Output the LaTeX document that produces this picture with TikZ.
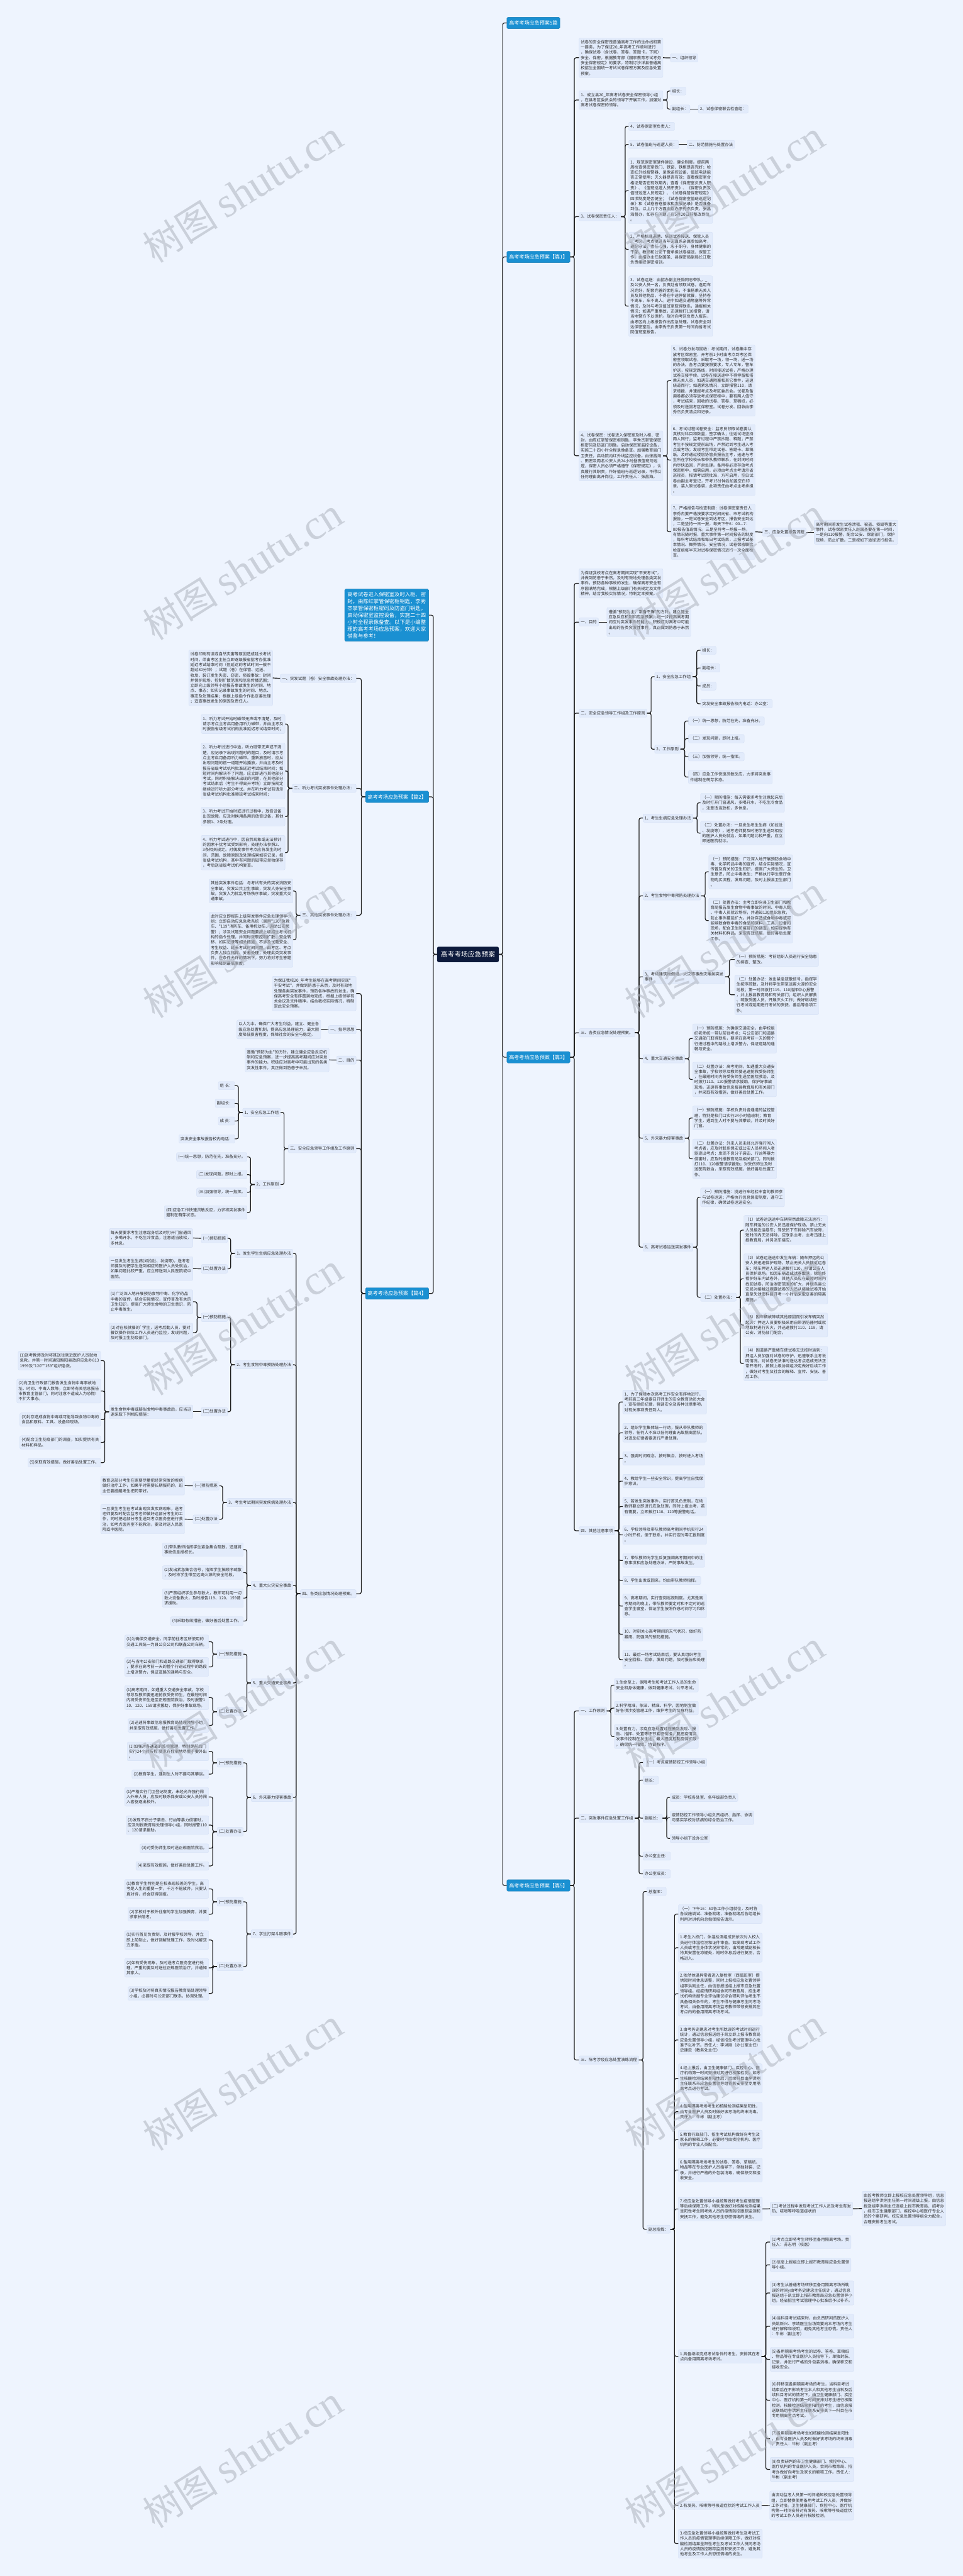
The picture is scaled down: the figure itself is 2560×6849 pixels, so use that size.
\documentclass[tikz,border=0pt]{standalone}
\usepackage{fontspec}
\newfontfamily\cjk{Noto Sans CJK SC}
\newfontfamily\wmlat{Liberation Serif}
\definecolor{bgc}{HTML}{EEF4FE}
\definecolor{nfill}{HTML}{E2EBFB}
\definecolor{nline}{HTML}{D3DFF5}
\definecolor{bluec}{HTML}{1A90D2}
\definecolor{darkc}{HTML}{0D1A3C}
\definecolor{linec}{HTML}{1C1C1C}
\definecolor{wmc}{HTML}{AEB3BE}
\newcommand\nf{\cjk\fontsize{10.7}{13.9}\selectfont}
\newcommand\bfnt{\cjk\fontsize{13.5}{16}\selectfont}
\newcommand\dfnt{\cjk\fontsize{13.9}{18.3}\selectfont}
\newcommand\cfnt{\cjk\fontsize{18}{21}\selectfont}
\tikzset{
 n/.style={fill=nfill,draw=nline,line width=0.6pt,rounded corners=3.5pt,inner xsep=4.5pt,inner ysep=6pt,align=left,font=\nf,text=black!82},
 bl/.style={fill=bluec,draw=bluec!85!black,line width=0.6pt,rounded corners=3pt,inner xsep=6pt,inner ysep=9pt,font=\bfnt,text=white},
 descbox/.style={fill=bluec,draw=bluec!85!black,line width=0.6pt,rounded corners=3pt,inner xsep=7.5pt,inner ysep=8pt,align=left,font=\dfnt,text=white},
 ctrbox/.style={fill=darkc,rounded corners=4pt,inner xsep=10pt,inner ysep=12pt,font=\cfnt,text=white},
 lk/.style={draw=linec,line width=2pt,rounded corners=5pt},
 wm/.style={rotate=32,text=wmc,opacity=0.55,inner sep=0pt}
}
\newcommand\RN[4]{\node[n,anchor=west] (#1) at (#2,#3) {#4};}
\newcommand\LN[4]{\node[n,anchor=east] (#1) at (#2,#3) {#4};}
\newcommand\linkR[2]{\draw[lk] (#1.east) -- ++(11,0) |- (#2.west);}
\newcommand\linkL[2]{\draw[lk] (#1.west) -- ++(-11,0) |- (#2.east);}
\newcommand\oneR[2]{\draw[lk] (#1.east) -- (#2.west);}
\newcommand\oneL[2]{\draw[lk] (#1.west) -- (#2.east);}
\newcommand\wmark[2]{\node[wm] at (#1,#2) {\cjk\fontsize{100}{100}\selectfont 树图 \wmlat\fontsize{112}{112}\selectfont shutu.cn};}
\begin{document}
\begin{tikzpicture}[x=1pt,y=-1pt]
\fill[bgc] (0,0) rectangle (2560,6849);
\useasboundingbox (0,0) rectangle (2560,6849);

% ---------------- level 0 and 1
\node[ctrbox] (ct) at (1244,2537.5) {高考考场应急预案};
\node[bl,anchor=west] (r0) at (1347,61) {高考考场应急预案5篇};
\node[bl,anchor=west] (r1) at (1347,683) {高考考场应急预案【篇1】};
\node[bl,anchor=west] (r3) at (1347,2811) {高考考场应急预案【篇3】};
\node[bl,anchor=west] (r5) at (1347,5013) {高考考场应急预案【篇5】};
\node[descbox,anchor=east] (ld) at (1140,1635.5) {高考试卷进入保密室及时入柜、密\\封。由陈红掌管保密柜钥匙，李秀\\杰掌管保密柜密码及防盗门钥匙。\\启动保密室监控设备，实施二十四\\小时全程录像备查。以下是小编整\\理的高考考场应急预案，欢迎大家\\借鉴与参考！};
\node[bl,anchor=east] (l2) at (1140,2118.5) {高考考场应急预案【篇2】};
\node[bl,anchor=east] (l4) at (1140,3439) {高考考场应急预案【篇4】};
\foreach \c in {r0,r1,r3,r5} {\draw[lk] (ct.east) -- ++(10,0) |- (\c.west);}
\foreach \c in {ld,l2,l4} {\draw[lk] (ct.west) -- ++(-10,0) |- (\c.east);}

% ---------------- 篇1
\RN{a1}{1539}{153.5}{试卷的安全保密是普通高考工作的生命线和第\\一要务，为了保证20\_年高考工作顺利进行\\，确保试卷（含试卷、答卷、答题卡，下同）\\安全、保密，根据教育部《国家教育考试考务\\安全保密规定》的要求，特制订沙洋县普通高\\校招生全国统一考试试卷保密方案及应急处置\\预案。}
\RN{a1c}{1782}{154}{一、组织领导}
\RN{a2}{1539}{266}{1、成立县20\_年高考试卷安全保密领导小组\\，在县考区委员会的领导下开展工作，加强对\\高考试卷保密的领导。}
\RN{a2a}{1782}{242}{组长：}
\RN{a2b}{1782}{290}{副组长：}
\RN{a2bc}{1856}{290}{2、试卷保密联合检查组：}
\RN{a3}{1539}{576}{3、试卷保密责任人：}
\RN{a3a}{1671}{336}{4、试卷保密室负责人：}
\RN{a3b}{1671}{384}{5、试卷值班与巡逻人员：}
\RN{a3bc}{1826}{384}{二、防范措施与处置办法}
\RN{a3c}{1671}{507}{1、规范保密室硬件建设，健全制度。提前两\\周检查保密室铁门、铁窗、铁柜是否完好；检\\查红外线报警器、录像监控设备、值班电话能\\否正常使用；灭火器是否有效；查看保密室合\\格证是否在有效期内；查看《保密室负责人职\\责》、《值班巡逻人员职责》、《保密负责及\\值班巡逻人员规定》、《试卷保管保密规定》\\四项制度是否健全；《试卷保密室值班巡逻记\\录》和《试卷答卷接收和发放记录》是否准备\\到位。以上几个方面由招办李秀杰负责，张昌\\海督办，如存在问题，在5月20日前整改到位\\。}
\RN{a3d}{1671}{663}{2、严格标准选聘、培训试卷接送、保管人员\\。考区、考点挑选当年无直系亲属参加高考，\\遵纪守法，责任心强，忠于职守，身体健康的\\干部、教师和公安干警承担试卷接送、保管工\\作。由招办主任赵国圣、县保密局副局长江敬\\负责组织保密培训。}
\RN{a3e}{1671}{814}{3、试卷运送：由招办副主任勋同志带队，\_\\及公安人员一名，负责赴省领取试卷。选用车\\况完好，配套完善的面包车，不准搭乘无关人\\员及其他物品，不得在中途停留就餐，坚持卷\\不离车，车不离人。途中如遇交通堵塞等异常\\情况，及时与考区值班室取得联系，通报相关\\情况；如遇严重事故，迅速拨打110报警，请\\当地警方予以保护。及时向考区负责人报告，\\由考区向上级报告作出应急处理。试卷安全到\\达保密室后，由李秀杰负责第一时间向省考试\\院值班室报告。}
\RN{a4}{1539}{1212}{4、试卷保密：试卷进入保密室及时入柜、密\\封，由陈红掌管保密柜钥匙，李秀杰掌管保密\\柜密码及防盗门钥匙。启动保密室监控设备，\\实施二十四小时全程录像备查。加强教育局门\\卫责任，启动院内红外线监控设备。由张昌海\\、田密及两名公安人员24小时昼夜值班与巡\\逻，保密人员必须严格遵守《保密规定》，认\\真履行其职责，作好值班与巡逻记录，不得以\\任何理由离开岗位。工作责任人：张昌海。}
\RN{a4a}{1784}{1012}{5、试卷分发与回收：考试期间，试卷集中存\\放考区保密室，开考前1小时由考点到考区保\\密室领取试卷，采取考一场，领一场，送一场\\的办法。各考点要按照要求，专人专车，警车\\护送，按规定路线，时间接送试卷，严格办理\\试卷交接手续。试卷在接送途中不得停留和搭\\乘无关人员，如遇交通阻塞和其它事件，迅速\\绕道而行；如遇紧急情况，立即报警110，请\\求增援，并速报考点及考区委员会。试卷及备\\用卷都必须存放考点保密柜中，要有两人值守\\，考试结束，回收的试卷、答卷、草稿纸，必\\须及时送回考区保密室。试卷分发、回收由李\\秀杰负责清点和记录。}
\RN{a4b}{1784}{1223}{6、考试过程试卷安全：监考员领取试卷要认\\真核对科目和数量，签字确认；往返试场坚持\\两人同行；监考过程中严禁抄题、释题；严禁\\考生不按规定提前出场，严禁迟到考生进入考\\点或考场；发现考生带走试卷、答题卡、草稿\\纸，及时通过楼层协管员报告主考，迅速与考\\生所在学校校长和带队教师联系，在封闭时间\\内尽快追回，严肃处理。备用卷必须存放考点\\保密柜中，如需启用，必须由考点主考请示省\\巡视员，报请考试院批准，方可启用，空白试\\卷由副主考登记，开考15分钟后加盖空白印\\章，装入原试卷袋，此项责任由考点主考承担\\。}
\RN{a4c}{1784}{1414}{7、严格报告与检查制度：试卷保密室责任人\\李秀杰要严格按要求定时间向省、市考试机构\\报告，一是试卷安全到达考区，报告安全到达\\，二是坚持一日一报，每天下午6：00—7：\\00报告值班情况。三是坚持考一场报一场，\\有情况随时报，重大事件第一时间报告的制度\\，每科考试结束和每日考试结束，上报考试基\\本情况、舞弊情况、安全情况，试卷保密联合\\检查组每半天对试卷保密情况进行一次全面检\\查。}
\RN{a4cc}{2027}{1415}{三、应急处置报告流程}
\RN{a4ccc}{2164}{1415}{高考期间若发生试卷泄密、被盗、损毁等重大\\事件，试卷保密责任人赵国圣要在第一时间，\\一是向110报警，配合公安、保密部门，保护\\现场，防止扩散。二是按如下途径进行报告。}
\foreach \c in {a1,a2,a3,a4} {\linkR{r1}{\c}}
\oneR{a1}{a1c}
\foreach \c in {a2a,a2b} {\linkR{a2}{\c}}
\oneR{a2b}{a2bc}
\foreach \c in {a3a,a3b,a3c,a3d,a3e} {\linkR{a3}{\c}}
\oneR{a3b}{a3bc}
\foreach \c in {a4a,a4b,a4c} {\linkR{a4}{\c}}
\oneR{a4c}{a4cc}
\oneR{a4cc}{a4ccc}

% ---------------- 篇3
\RN{c1}{1539}{1551}{为保证我校考点在高考期间实现"平安考试"，\\并做到防患于未然，及时有效地处理各类突发\\事件，预防各种事故的发生，确保高考安全有\\序圆满地完成，根据上级部门有关规定及文件\\精神，结合我校实际情况，特制定本预案。}
\RN{c2}{1539}{1654}{一、目的}
\RN{c2c}{1613}{1654}{遵循"预防为主，常备不懈"的方针，建立健全\\应急反应机制和应急预案，进一步提高高考期\\间应对突发事件的能力，积极应对高考中可能\\出现的各类突发性事件，真正做到防患于未然\\。}
\RN{c3}{1539}{1896}{二、安全应急领导工作组及工作原则}
\RN{c3a}{1740}{1799}{1、安全应急工作组}
\RN{c3a1}{1862}{1729}{组长：}
\RN{c3a2}{1862}{1776}{副组长：}
\RN{c3a3}{1862}{1824}{成员：}
\RN{c3a4}{1862}{1871}{突发安全事故报告校内电话：办公室：}
\RN{c3b}{1740}{1992}{2、工作原则}
\RN{c3b1}{1830}{1917}{（一）统一思想，防范在先，准备充分。}
\RN{c3b2}{1830}{1964}{（二）发现问题，即时上报。}
\RN{c3b3}{1830}{2012}{（三）加强领导，统一指挥。}
\RN{c3b4}{1830}{2066}{（四）应急工作快速灵敏反应，力求将突发事\\件遏制在萌芽状态。}
\RN{c4}{1539}{2746}{三、各类应急情况处理预案。}
\RN{c4a}{1709}{2175}{1、考生生病应急处理办法}
\RN{c4a1}{1862}{2134.5}{（一）预防措施：每天需要求考生注意起床后\\及时打开门窗通风，多喝开水，不吃生冷食品\\，注意适当放松，多休息。}
\RN{c4a2}{1862}{2215}{（二）处置办法：一旦发生考生生病（如拉肚\\、发烧等），送考老师要及时把学生送到相应\\的医护人员处就治，如果问题比较严重，应立\\即送医院就诊。}
\RN{c4b}{1709}{2382}{2、考生食物中毒预防处理办法}
\RN{c4b1}{1884}{2318}{（一）预防措施：广泛深入地开展预防食物中\\毒、化学药品中毒的宣传，结合实际情况，宣\\传普及有关的卫生知识，提高广大师生的。卫\\生意识，防止中毒发生；严格执行学生餐厅食\\物购买流程，发现问题，及时上报县卫生部门\\。}
\RN{c4b2}{1884}{2447.5}{（二）处置办法：主考立即向县卫生部门和教\\育局报告发生食物中毒事故的时间、中毒人数\\、中毒人员就诊场所，并通知120组织急救，\\防止事件蔓延扩大。并封存造成食物中毒或可\\能导致食物中毒的食品和原料、工具、设备和\\现场，配合卫生防疫部门的调查，如实提供有\\关材料和样品。采取有效措施，做好善后处置\\工作。}
\RN{c4c}{1709}{2597}{3、考场建筑物倒塌、火灾等事故灾难类突发\\事件}
\RN{c4c1}{1953}{2551}{（一）预防措施：考前组织人员进行安全隐患\\的排查、整改。}
\RN{c4c2}{1953}{2645}{（二）处置办法：发出紧急疏散信号，指挥学\\生按序疏散，及时将学生带至远离火源的安全\\地段；第一时间拨打119、110指挥中心报警\\，并上报县教育局和有关部门；组织人员解救\\、疏散受困人员，开展灭火工作；做好继续进\\行考试或延期进行考试的安抚、善后等各项工\\作。}
\RN{c4d}{1709}{2815}{4、重大交通安全事故}
\RN{c4d1}{1841}{2761}{（一）预防措施：为确保交通安全，由学校组\\织老师统一带队前往考点；与公安部门和道路\\交通部门取得联系，要求在高考前一天的整个\\行进过程中的路段上增派警力，保证道路的通\\畅与安全。}
\RN{c4d2}{1841}{2870}{（二）处置办法：高考期间，如遇重大交通安\\全事故，学校领导及教师要迅速抢救受伤师生\\，在最短时间内将受伤师生送至医院救治，及\\时拨打110、120报警请求援助，保护好事故\\现场。迅速将事故信息报县教育局和有关部门\\，并采取有效措施，做好善后处置工作。}
\RN{c4e}{1709}{3026}{5、外来暴力侵害事故}
\RN{c4e1}{1841}{2972.5}{（一）预防措施：学校负责对各通道的监控管\\理，特别是校门口实行24小时值班制；教育\\学生，遇到生人时不要与其攀谈，并及时关好\\门窗。}
\RN{c4e2}{1841}{3081}{（二）处置办法：外来人员未经允许强行闯入\\考点者，应及时联系保安或公安人员将闯入者\\驱逐出考点；发现不良分子袭击、行凶等暴力\\侵害时，应及时报教育局及相关部门，同时拨\\打110、120报警请求援助；对受伤师生及时\\送医院救治，采取有效措施，做好善后处置工\\作。}
\RN{c4f}{1709}{3316}{6、高考试卷运送突发事件}
\RN{c4f1}{1862}{3183.5}{（一）预防措施：挑选行车经验丰富的教师参\\与试卷运送；严格执行信息保密制度，遵守工\\作纪律，确保试卷运送安全。}
\RN{c4f2}{1862}{3449}{（二）处置办法：}
\RN{c4g1}{1977}{3270.5}{（1）试卷运送途中车辆突然故障无法运行：\\随车押运的公安人员迅速保护现场，禁止无关\\人员接近运卷车；驾驶员下车排除汽车故障，\\短时间内无法排除，应联系主考，主考迅速上\\报教育局，并另派车接应。}
\RN{c4g2}{1977}{3400}{（2）试卷运送途中发生车祸：随车押运的公\\安人员迅速保护现场，禁止无关人员接近运卷\\车；随车押运人员迅速拨打110，呼请公安人\\员保护现场。如因车祸造成试卷散落，除始终\\看护好车内试卷外，其他人员应在最短时间内\\找回试卷，防治泄密范围的扩大，并联系县公\\安局对接触过裸露试卷的人员从接触试卷开始\\直至失泄密科目开考一小时后采取妥善的隔离\\措施。}
\RN{c4g3}{1977}{3523}{（3）因车辆故障或其他原因而引发车辆突然\\起火：押运人员要积极采用自带消防器材或就\\地取材进行灭火，并迅速拨打110、119，请\\公安、消防部门配合。}
\RN{c4g4}{1977}{3625.5}{（4）因道路严重堵车使试卷无法按时运到：\\押运人员加强对试卷的守护，迅速联系主考说\\明情况。对试卷无法准时送达考点造成无法正\\常开考的，按照上级协调组决定做好后续工作\\，做好对考生及社会的解释、宣传、安抚、善\\后工作。}
\RN{c5}{1539}{4070}{四、其他注意事项}
\RN{c51}{1655}{3727.5}{1、为了保障本次高考工作安全有序地进行，\\考前高三年级要召开师生的安全教育动员大会\\，宣布组织纪律，强调安全及各种注意事项，\\对有关事项责任到人。}
\RN{c52}{1655}{3809.5}{2、组织学生集体统一行动，服从带队教师的\\领导，任何人不准以任何理由无故脱离团队，\\对违反纪律者要进行严肃处理。}
\RN{c53}{1655}{3877.5}{3、强调时间观念，按时集合，按时进入考场\\。}
\RN{c54}{1655}{3938}{4、教给学生一些安全常识，提高学生自我保\\护意识。}
\RN{c55}{1655}{4005.5}{5、若发生突发事件，实行首见负责制，在场\\教师要立即进行应急处理，同时上报主考，若\\有需要，立即拨打110、120等报警电话。}
\RN{c56}{1655}{4081}{6、学校领导及带队教师高考期间手机实行24\\小时开机，便于联系，并实行定时零汇报制度\\。}
\RN{c57}{1655}{4149}{7、带队教师向学生反复强调高考期间中的注\\意事项和应急处理办法，严防事故发生。}
\RN{c58}{1655}{4202}{8、学生出发或回来，均由带队教师指挥。}
\RN{c59}{1655}{4270}{9、高考期间，实行查岗巡视制度。尤其是高\\考期间的晚上，带队教师要定时和不定时的巡\\查学生寝室，保证学生按照作息时间学习和休\\息。}
\RN{c510}{1655}{4345}{10、时刻关心高考期间的天气状况，做好防\\暴雨、防强风的预防措施。}
\RN{c511}{1655}{4412.5}{11、最后一场考试结束后，要认真组织考生\\安全回校、回家，发现问题，及时报告和处理\\。}
\foreach \c in {c1,c2,c3,c4,c5} {\linkR{r3}{\c}}
\oneR{c2}{c2c}
\foreach \c in {c3a,c3b} {\linkR{c3}{\c}}
\foreach \c in {c3a1,c3a2,c3a3,c3a4} {\linkR{c3a}{\c}}
\foreach \c in {c3b1,c3b2,c3b3,c3b4} {\linkR{c3b}{\c}}
\foreach \c in {c4a,c4b,c4c,c4d,c4e,c4f} {\linkR{c4}{\c}}
\foreach \c in {c4a1,c4a2} {\linkR{c4a}{\c}}
\foreach \c in {c4b1,c4b2} {\linkR{c4b}{\c}}
\foreach \c in {c4c1,c4c2} {\linkR{c4c}{\c}}
\foreach \c in {c4d1,c4d2} {\linkR{c4d}{\c}}
\foreach \c in {c4e1,c4e2} {\linkR{c4e}{\c}}
\foreach \c in {c4f1,c4f2} {\linkR{c4f}{\c}}
\foreach \c in {c4g1,c4g2,c4g3,c4g4} {\linkR{c4f2}{\c}}
\foreach \c in {c51,c52,c53,c54,c55,c56,c57,c58,c59,c510,c511} {\linkR{c5}{\c}}

% ---------------- 篇5
\RN{d1}{1539}{4549}{一、工作原则}
\RN{d11}{1633}{4480.5}{1.生命至上，保障考生和考试工作人员的生命\\安全和身体健康，做到健康考试、公平考试。}
\RN{d12}{1633}{4541.5}{2.科学精准，依法、精准、科学，因地制宜做\\好各项涉疫管理工作，维护考生的切身利益。}
\RN{d13}{1633}{4617}{3.处置有力，涉疫应急处置过程做到发现、报\\告、指挥、处置等环节紧密衔接，要把疫情突\\发事件控制在发生地，最大程度控制疫情扩散\\，确保统一指挥，协调有序。}
\RN{d2}{1539}{4834}{二、突发事件应急处置工作组}
\RN{d21}{1709}{4686}{（一）考点疫情防控工作领导小组}
\RN{d22}{1709}{4733}{组长：}
\RN{d23}{1709}{4834}{副组长：}
\RN{d231}{1781}{4779}{成员：学校各处室、各年级部负责人}
\RN{d232}{1781}{4833}{疫情防控工作领导小组负责组织、指挥、协调\\与落实学校对该病的综合防治工作。}
\RN{d233}{1781}{4888}{领导小组下设办公室}
\RN{d24}{1709}{4935}{办公室主任：}
\RN{d25}{1709}{4982}{办公室成员：}
\RN{d3}{1539}{5477}{三、陈考涉疫应急处置演练流程}
\RN{d31}{1719}{5029}{总指挥：}
\RN{d32}{1719}{5927}{副总指挥：}
\RN{e1}{1803}{5089}{（一）下午16：50各工作小组就位，及时将\\各设施调试、准备就绪，准备就绪后各组组长\\利用对讲机向总指挥报告请示。}
\RN{e2}{1803}{5178.5}{1.考生入校门，体温检测组成员依次对入校人\\员进行体温检测和证件审查。如发现考试工作\\人员或考生身体状况异常的，由常建斌副校长\\将其安置在凉棚处，短时休息后进行复测，合\\格进入。}
\RN{e3}{1803}{5301}{2.依然体温异常者进入复检室（西值班室）提\\供短时间休息调整，同时上报校应急处置领导\\组李洪刚主任，由信息报送组上报市应急处置\\领导组。经疫情研判组协同市教育局、招生考\\试机构依据专业评估建议综合研判评估考生不\\具备相关条件的，考生不得与健康考生同考场\\考试，由备用隔离考场监考教师带领安排其在\\考点内的备用隔离考场考试。}
\RN{e4}{1803}{5424}{3.由考务史建忠对考生所耽误的考试时间进行\\统计，通过信息报送组于凯立即上报市教育局\\应急处置领导小组，经省招生考试管理中心批\\准予以补齐。责任人：李洪刚（办公室主任）\\史建忠（教务处主任）}
\RN{e5}{1803}{5526}{4.经上报后，由卫生健康部门、疾控中心、医\\疗机构第一时间安排对其进行核酸检测，如考\\生核酸检测结果呈阳性后，后续科目由李洪刚\\主任联系市应急处置领导组将其安排至专用隔\\离考点进行考试。}
\RN{e6}{1803}{5614.5}{4.备用隔离考场考生如核酸检测结果呈阳性，\\由专业医护人员及时做好该考场的终末消毒。\\责任人：牛彬（副主考）}
\RN{e7}{1803}{5688.5}{5.教育行政部门、招生考试机构做好向考生及\\家长的解释工作，必要时可由疾控机构、医疗\\机构的专业人员配合。}
\RN{e8}{1803}{5769.5}{6.备用隔离考场考生的试卷、答卷、草稿纸、\\物品等在专业医护人员指导下，单独封装、记\\录，并进行严格的外包装消毒，确保移交和接\\收安全。}
\RN{e9}{1803}{5873}{7.校应急处置领导小组统筹做好考生疫情管理\\等后续保障工作，特别是做好对核酸检测结果\\呈阳性考生同考场人员的疫情防控跟踪监测和\\安抚工作，避免其他考生恐慌情绪的发生。}
\RN{e9a}{2047}{5872.5}{(二)考试过程中发现考试工作人员及考生有发\\热、咳嗽等呼吸道症状的}
\RN{e9b}{2291}{5872}{由监考教师立即上报校应急处置领导组，信息\\报送组李洪刚主任第一时间逐级上报，由信息\\报送组李洪刚主任逐级上报市教育局、招考办\\，经市卫生健康部门、疾控中心和医疗专业人\\员的个案研判，校应急处置领导组全力配合，\\合理安排考生考试。}
\RN{e10}{1803}{6265}{1.具备继续完成考试条件的考生，安排其在考\\点内备用隔离考场考试。}
\RN{f1}{2047}{5961}{(1)考点立即将考生转移至备用隔离考场。责\\任人：苏志明（校医）}
\RN{f2}{2047}{6021.5}{(2)信息上报组立即上报市教育局应急处置领\\导小组。}
\RN{f3}{2047}{6096.5}{(3)考生从普通考场转移至备用隔离考场所耽\\误的时间y由考务史建忠主任统计，通过信息\\报送组于凯立即上报市教育局应急处置领导小\\组，经省招生考试管理中心批准后予以补齐。}
\RN{f4}{2047}{6185}{(4)当科目考试结束时，由负责研判的医护人\\员姚新兴、李靖医生当场简要向本考场内考生\\进行解释和说明，避免其他考生恐慌。责任人\\：牛彬（副主考）}
\RN{f5}{2047}{6273}{(5)备用隔离考场考生的试卷、答卷、草稿纸\\、物品等在专业医护人员指导下，单独封装、\\记录，并进行严格的外包装消毒，确保移交和\\接收安全。}
\RN{f6}{2047}{6381.5}{(6)转移至备用隔离考场的考生，当科目考试\\结束后在不影响考生本人和其他考生当科及后\\续科目考试的情况下，由卫生健康部门、疾控\\中心、医疗机构第一时间安排对考生进行核酸\\检测。核酸检测结果呈阳性的考生，由信息报\\送联络组李洪刚主任联系安排其下一科目在市\\专用隔离考点考试。}
\RN{f7}{2047}{6484}{(7)备用隔离考场考生如核酸检测结果呈阳性\\，由专业医护人员及时做好该考场的终末消毒\\。责任人：牛彬（副主考）}
\RN{f8}{2047}{6565.5}{(8)负责研判的市卫生健康部门、疾控中心、\\医疗机构的专业医护人员，会同市教育局、招\\考办做好向考生及家长的解释工作。责任人：\\牛彬（副主考）}
\RN{e11}{1803}{6661}{2.有发热、咳嗽等呼吸道症状的考试工作人员}
\RN{e11a}{2046}{6661.5}{由流动监考人员第一时间通知校应急处置领导\\组，立即替换使用备用考试工作人员，并做好\\工作对接。卫生健康部门、疾控中心、医疗机\\构第一时间安排对有发热、咳嗽等呼吸道症状\\的考试工作人员进行核酸检测。}
\RN{e12}{1803}{6763}{3.校应急处置领导小组统筹做好考生及考试工\\作人员的疫情管理等后续保障工作，做好对核\\酸检测结果呈阳性考生及考试工作人员同考场\\人员的疫情防控跟踪监测和安抚工作，避免其\\他考生及工作人员恐慌情绪的发生。}
\foreach \c in {d1,d2,d3} {\linkR{r5}{\c}}
\foreach \c in {d11,d12,d13} {\linkR{d1}{\c}}
\foreach \c in {d21,d22,d23,d24,d25} {\linkR{d2}{\c}}
\foreach \c in {d231,d232,d233} {\linkR{d23}{\c}}
\foreach \c in {d31,d32} {\linkR{d3}{\c}}
\foreach \c in {e1,e2,e3,e4,e5,e6,e7,e8,e9,e10,e11,e12} {\linkR{d32}{\c}}
\oneR{e9}{e9a}
\oneR{e9a}{e9b}
\foreach \c in {f1,f2,f3,f4,f5,f6,f7,f8} {\linkR{e10}{\c}}
\oneR{e11}{e11a}

% ---------------- 篇2 (left)
\LN{g1}{947}{1803.5}{一、突发试题（卷）安全事故处理办法：}
\LN{g1c}{725}{1802.5}{试卷印刷有误或自然灾害等原因造成延长考试\\时间，须由考区主任立即逐级报省招考办批准\\延迟考试结束时间（但延迟的考试时间一般不\\超过30分钟）；试题（卷）在保管、运送、\\收发、装订发生失密、窃密、损毁事故：封闭\\并保护现场，控制扩散范围和信息传播范围；\\立即向上级领导小组报告事故发生的时间、地\\点、事态；如实记录事故发生的时间、地点、\\事态及处理结果；根据上级指令作出妥善处理\\；追查事故发生的原因及责任人。}
\LN{g2}{947}{2096}{二、听力考试突发事件处理办法：}
\LN{g21}{758}{1925}{1、听力考试开始时磁带无声或不清楚，及时\\请示考点主考启用备用听力磁带，并由主考及\\时报告省级考试机构批准延迟考试结束时间；}
\LN{g22}{758}{2050}{2、听力考试进行中途，听力磁带无声或不清\\楚，应记录下出现问题时的题目，及时请示考\\点主考启用备用听力磁带。重新放音时，应从\\出现问题的前一道题开始播放，并由主考及时\\报告省级考试机构批准延迟考试结束时间；如\\短时间内解决不了问题，应立即进行其他部分\\考试，同时积极解决出现的问题，在其他部分\\考试结束后（考生不得离开考场）立即按规定\\继续进行听力部分考试，并在听力考试前请示\\省级考试机构批准顺延考试结束时间；}
\LN{g23}{758}{2171}{3、听力考试开始时或进行过程中，放音设备\\出现故障，应及时换用备用的放音设备，其他\\参照1、2条处理。}
\LN{g24}{758}{2267}{4、听力考试进行中，因自然现象或无法预计\\的因素干扰考试受到影响，处理办法参照2、\\3条相关规定。对偶发事件考点应将发生的时\\间、范围、故障原因及处理结果如实记录，报\\省级考试机构，其中有问题的磁带应单独保存\\，考后送省级考试机构复查。}
\LN{g3}{947}{2433.5}{三、其他突发事件处理办法：}
\LN{g31}{779}{2369}{其他突发事件包括：与考试有关的突发消防安\\全事故，突发公共卫生事故，突发人身安全事\\故，突发人为扰乱考场秩序事故，突发重大交\\通事故。}
\LN{g32}{779}{2498.5}{此时应立即报告上级突发事件应急处理领导小\\组；立即启动应急急救系统（调用"120"急救\\车、"119"消防车、备用机动车、调动公安民\\警）；涉及试题安全问题要按上级招生考试机\\构的指令处理，并同时采取控制扩散、安全转\\移、如实记录等相关措施；不涉及试题安全、\\考生权益、延长考试时间问题，由考区、考点\\负责人独立指挥、妥善处理；处理此类突发事\\件，在条件允许的情况下，努力将对考生答题\\影响降到最低限度。}
\foreach \c in {g1,g2,g3} {\linkL{l2}{\c}}
\oneL{g1}{g1c}
\foreach \c in {g21,g22,g23,g24} {\linkL{g2}{\c}}
\foreach \c in {g31,g32} {\linkL{g3}{\c}}

% ---------------- 篇4 (left)
\LN{h1}{947}{2641.5}{为保证我校20\_年考生能够在高考期间实现"\\平安考试"，并做到防患于未然，及时有效地\\处理各类突发事件，预防各种事故的发生，确\\保高考安全有序圆满地完成，根据上级领导有\\关会议及文件精神，结合我校实际情况，特制\\定此安全预案。}
\LN{h2}{947}{2737.5}{一、指导思想}
\LN{h2c}{853}{2737}{以人为本，确保广大考生利益，建立、健全各\\级应急处置机制，提高应急处理能力，最大限\\度降低损害程度，保障社会的安全与稳定。}
\LN{h3}{947}{2818.5}{二、目的}
\LN{h3c}{875}{2818}{遵循"预防为主"的方针，建立健全应急反应机\\制和应急预案，进一步提高高考期间应对突发\\事件的能力，积极应对高考中可能出现的各类\\突发性事件，真正做到防患于未然。}
\LN{h4}{947}{3054}{三、安全应急领导工作组及工作原则}
\LN{h41}{746}{2957.5}{1、安全应急工作组}
\LN{h411}{624}{2886.5}{组 长：}
\LN{h412}{624}{2933.5}{副组长：}
\LN{h413}{624}{2980.5}{成 员：}
\LN{h414}{624}{3028}{突发安全事故报告校内电话：}
\LN{h42}{746}{3149.5}{2、工作原则}
\LN{h421}{657}{3076}{(一)统一思想，防范在先，准备充分。}
\LN{h422}{657}{3123}{(二)发现问题，即时上报。}
\LN{h423}{657}{3170}{(三)加强领导，统一指挥。}
\LN{h424}{657}{3223.5}{(四)应急工作快速灵敏反应，力求将突发事件\\遏制在萌芽状态。}
\LN{h5}{947}{4237.5}{四、各类应急情况处理预案。}
\LN{k1}{779}{3332.5}{1、发生学生生病应急处理办法}
\LN{k11}{605}{3292.5}{(一)预防措施}
\LN{k11c}{513}{3291.5}{每天要要求考生注意起身后及时打开门窗通风\\，多喝开水，不吃生冷食品，注意适当放松，\\多休息。}
\LN{k12}{605}{3373.5}{(二)处置办法}
\LN{k12c}{513}{3373}{一旦发生考生生病(如拉肚、发烧等)，送考老\\师要及时把学生送到相应的医护人员处就治，\\如果问题比较严重，应立即送到人民医院或中\\医院。}
\LN{k2}{779}{3628.5}{2、考生食物中毒预防处理办法}
\LN{k21}{605}{3502.5}{(一)预防措施}
\LN{k211}{513}{3461}{(1)广泛深入地开展预防食物中毒、化学药品\\中毒的宣传，结合实际情况，宣传普及有关的\\卫生知识，提高广大师生食物的卫生意识，防\\止中毒发生。}
\LN{k212}{513}{3543}{(2)对在校就餐的\char96 学生，送考后勤人员，要对\\餐饮操作间及工作人员进行监控，发现问题，\\及时报卫生防疫部门。}
\LN{k22}{605}{3753.5}{(二)处置办法}
\LN{k22c}{513}{3753.5}{发生食物中毒或疑似食物中毒事故后，应当迅\\速采取下列相应措施：}
\LN{k221}{268}{3617.5}{(1)送考教师及时将其送往就近医护人员就地\\急救，并第一时间通知睢阳县政府应急办813\\1999及"120""159"组织急救。}
\LN{k222}{268}{3698.5}{(2)向卫生行政部门报告发生食物中毒事故地\\址、时间、中毒人数等。立即将有关信息报告\\市教育主管部门，同时注意不造成人为恐慌!\\不扩大事态。}
\LN{k223}{268}{3774.5}{(3)封存造成食物中毒或可能导致食物中毒的\\食品和原料、工具、设备和现场。}
\LN{k224}{268}{3835}{(4)配合卫生防疫部门的调查，如实提供有关\\材料和样品。}
\LN{k225}{268}{3889}{(5)采取有效措施，做好善后处置工作。}
\LN{k3}{779}{3995}{3、考生考试期间突发疾病处理办法}
\LN{k31}{583}{3950.5}{(一)预防措施}
\LN{k31c}{491}{3950}{教育这部分考生在家要尽量把经常突发的疾病\\做好治疗工作，如果平时需要长期服药的，班\\主任要提醒考生把药带好。}
\LN{k32}{583}{4039.5}{(二)处置办法}
\LN{k32c}{491}{4039}{一旦发生考生在考试出现突发疾病现象，送考\\老师要及时配合监考老师做好这部分考生的工\\作，同时把这部分考生送到考点医务室进行救\\治，如考点医务室不能救治，要及时送人民医\\院或中医院。}
\LN{k4}{779}{4215}{4、重大火灾安全事故}
\LN{k41}{647}{4120}{(1)带队教师指挥学生紧急集合疏散，迅速将\\事故信息报校长。}
\LN{k42}{647}{4181}{(2)发出紧急集合信号，指挥学生按顺序疏散\\，及时将学生带至远离火源的安全地段。}
\LN{k43}{647}{4249}{(3)严禁组织学生参与救火，教师可利用一切\\救火设备救火，及时报告119、120、159请\\求援助。}
\LN{k44}{647}{4310}{(4)采取有效措施，做好善后处置工作。}
\LN{k5}{779}{4474.5}{5、重大交通安全事故}
\LN{k51}{647}{4398}{(一)预防措施}
\LN{k511}{555}{4365}{(1)为确保交通安全，同学前往考区所使用的\\交通工具统一为县公交公司和联鑫公司车辆。}
\LN{k512}{555}{4432}{(2)与当地公安部门和道路交通部门取得联系\\，要求在高考前一天的整个行进过程中的路段\\上增派警力，保证道路的通畅与安全。}
\LN{k52}{647}{4551}{(二)处置办法}
\LN{k521}{555}{4513.5}{(1)高考期间，如遇重大交通安全事故，学校\\领导及教师要迅速抢救受伤师生，在最短时间\\内将受伤师生送至正规医院救治，及时报警1\\10、120、159请求援助，保护好事故现场。}
\LN{k522}{555}{4587.5}{(2)迅速将事故信息报教育局处理领导小组，\\并采取有效措施，做好善后处置工作。}
\LN{k6}{779}{4779}{6、外来暴力侵害事故}
\LN{k61}{647}{4687}{(一)预防措施}
\LN{k611}{555}{4656.5}{(1)加强对各通道的监控管理，特别是前后门\\实行24小时布控.要求在住宿地尽量不要外出\\。}
\LN{k612}{555}{4717}{(2)教育学生，遇到生人时不要与其攀谈。}
\LN{k62}{647}{4870}{(二)处置办法}
\LN{k621}{555}{4777.5}{(1)严格实行门卫登记制度，未经允许强行闯\\入外来人员，应及时联系保安或公安人员将闯\\入者驱逐出校外。}
\LN{k622}{555}{4852.5}{(2)发现不良分子袭击、行凶等暴力侵害时，\\应及时报教育局处理领导小组，同时报警110\\、120请求援助。}
\LN{k623}{555}{4914}{(3)对受伤师生及时送正规医院救治。}
\LN{k624}{555}{4961}{(4)采取有效措施，做好善后处置工作。}
\LN{k7}{779}{5142}{7、学生打架斗殴事件}
\LN{k71}{647}{5056.5}{(一)预防措施}
\LN{k711}{555}{5022}{(1)教育学生特别是在校表现较差的学生，高\\考是人生的重要一步，千万不能放弃，只要认\\真对待，终会获得回报。}
\LN{k712}{555}{5089.5}{(2)学校对于校外住宿的学生加强教育，并要\\求家长陪考。}
\LN{k72}{647}{5228.5}{(二)处置办法}
\LN{k721}{555}{5158}{(1)实行首见负责制，及时报学校领导。并立\\即上前制止，做好调解处理工作，及时化解双\\方矛盾。}
\LN{k722}{555}{5232}{(2)如有受伤现象，及时送考点医务室进行处\\理，严重的要及时送往正规医院治疗，并通知\\其家人。}
\LN{k723}{555}{5300}{(3)学校及时将真实情况报告教育局处理领导\\小组，必要时与公安部门联系，协调处理。}
\foreach \c in {h1,h2,h3,h4,h5} {\linkL{l4}{\c}}
\oneL{h2}{h2c}
\oneL{h3}{h3c}
\foreach \c in {h41,h42} {\linkL{h4}{\c}}
\foreach \c in {h411,h412,h413,h414} {\linkL{h41}{\c}}
\foreach \c in {h421,h422,h423,h424} {\linkL{h42}{\c}}
\foreach \c in {k1,k2,k3,k4,k5,k6,k7} {\linkL{h5}{\c}}
\foreach \c in {k11,k12} {\linkL{k1}{\c}}
\oneL{k11}{k11c}
\oneL{k12}{k12c}
\foreach \c in {k21,k22} {\linkL{k2}{\c}}
\foreach \c in {k211,k212} {\linkL{k21}{\c}}
\oneL{k22}{k22c}
\foreach \c in {k221,k222,k223,k224,k225} {\linkL{k22c}{\c}}
\foreach \c in {k31,k32} {\linkL{k3}{\c}}
\oneL{k31}{k31c}
\oneL{k32}{k32c}
\foreach \c in {k41,k42,k43,k44} {\linkL{k4}{\c}}
\foreach \c in {k51,k52} {\linkL{k5}{\c}}
\foreach \c in {k511,k512} {\linkL{k51}{\c}}
\foreach \c in {k521,k522} {\linkL{k52}{\c}}
\foreach \c in {k61,k62} {\linkL{k6}{\c}}
\foreach \c in {k611,k612} {\linkL{k61}{\c}}
\foreach \c in {k621,k622,k623,k624} {\linkL{k62}{\c}}
\foreach \c in {k71,k72} {\linkL{k7}{\c}}
\foreach \c in {k711,k712} {\linkL{k71}{\c}}
\foreach \c in {k721,k722,k723} {\linkL{k72}{\c}}

% ---------------- watermarks
\foreach \yy in {510,1514,2518,3522,4526,5530,6534} {\wmark{646}{\yy}\wmark{1927}{\yy}}
\end{tikzpicture}
\end{document}
